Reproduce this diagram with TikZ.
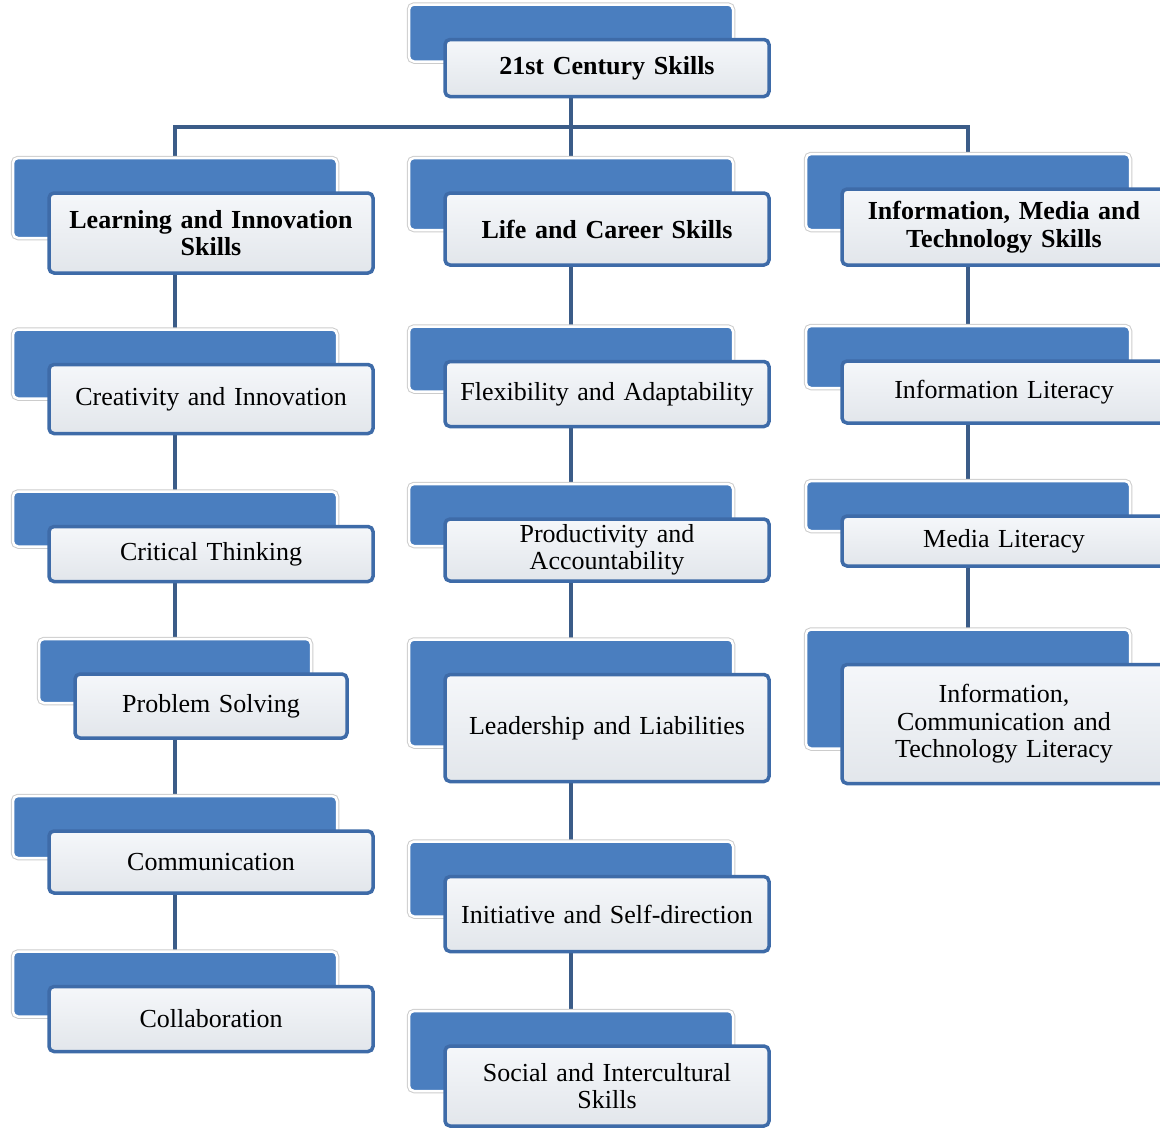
\documentclass[tikz,border=0pt]{standalone}
\usepackage{fontspec}
\setmainfont{Liberation Serif}
\usetikzlibrary{positioning,backgrounds}
\definecolor{skillblue}{HTML}{4A7EBF}
\definecolor{skilledge}{HTML}{3E6BA8}
\definecolor{skillline}{HTML}{3B5C88}
\definecolor{paletop}{HTML}{F5F7FA}
\definecolor{palebot}{HTML}{E2E6EB}
\tikzset{
	back/.style={
		rectangle,
		rounded corners=5pt,
		fill=skillblue,
		draw=white,
		line width=2.5pt,
		preaction={draw=black!20,line width=4.5pt},
		minimum width=324pt,
	},
	front/.style={
		rectangle,
		rounded corners=5pt,
		top color=paletop,
		bottom color=palebot,
		draw=skilledge,
		line width=3.5pt,
		minimum width=324pt,
		text width=310pt,
		align=center,
		inner sep=0pt,
		font=\fontsize{26}{27.5}\selectfont,
	},
	head/.style={
		front,
		font=\fontsize{26}{27.5}\selectfont\bfseries,
	},
	link/.style={
		draw=skillline,
		line width=4pt
	}
}

\begin{document}
\begin{tikzpicture}[x=1pt,y=-1pt]
		\useasboundingbox (0,0) rectangle (1160,1130);
		\clip (0,0) rectangle (1160,1130);
		% top
		\node [back,minimum height=57pt] (b-root) at (571,33) {};
		\node [head,minimum height=57pt] (root) at ([shift={(36,35)}]b-root.center) {21st Century Skills};
		% left column
		\node [back,minimum height=80pt] (b-learn) at (175,198) {};
		\node [head,minimum height=80pt] (learn) at ([shift={(36,35)}]b-learn.center) {Learning and Innovation\\Skills};
		\node [back,minimum height=69pt] (b-creat) at (175,364) {};
		\node [front,minimum height=69pt] (creat) at ([shift={(36,35)}]b-creat.center) {Creativity and Innovation};
		\node [back,minimum height=55pt] (b-crit) at (175,519) {};
		\node [front,minimum height=55pt] (crit) at ([shift={(36,35)}]b-crit.center) {Critical Thinking};
		\node [back,minimum height=64pt,minimum width=272pt] (b-prob) at (175,671) {};
		\node [front,minimum height=64pt,minimum width=272pt,text width=260pt] (prob) at ([shift={(36,35)}]b-prob.center) {Problem Solving};
		\node [back,minimum height=62pt] (b-comm) at (175,827) {};
		\node [front,minimum height=62pt] (comm) at ([shift={(36,35)}]b-comm.center) {Communication};
		\node [back,minimum height=65pt] (b-collab) at (175,984) {};
		\node [front,minimum height=65pt] (collab) at ([shift={(36,35)}]b-collab.center) {Collaboration};
		% middle column
		\node [back,minimum height=72pt] (b-life) at (571,194) {};
		\node [head,minimum height=72pt] (life) at ([shift={(36,35)}]b-life.center) {Life and Career Skills};
		\node [back,minimum height=65pt] (b-flex) at (571,359) {};
		\node [front,minimum height=65pt] (flex) at ([shift={(36,35)}]b-flex.center) {Flexibility and Adaptability};
		\node [back,minimum height=62pt] (b-prod) at (571,515) {};
		\node [front,minimum height=62pt] (prod) at ([shift={(36,35)}]b-prod.center) {Productivity and\\Accountability};
		\node [back,minimum height=107pt] (b-lead) at (571,693) {};
		\node [front,minimum height=107pt] (lead) at ([shift={(36,35)}]b-lead.center) {Leadership and Liabilities};
		\node [back,minimum height=75pt] (b-init) at (571,879) {};
		\node [front,minimum height=75pt] (init) at ([shift={(36,35)}]b-init.center) {Initiative and Self-direction};
		\node [back,minimum height=80pt] (b-social) at (571,1051) {};
		\node [front,minimum height=80pt] (social) at ([shift={(36,35)}]b-social.center) {Social and Intercultural\\Skills};
		% right column
		\node [back,minimum height=76pt] (b-info) at (968,192) {};
		\node [head,minimum height=76pt] (info) at ([shift={(36,35)}]b-info.center) {Information, Media and\\Technology Skills};
		\node [back,minimum height=62pt] (b-infolit) at (968,357) {};
		\node [front,minimum height=62pt] (infolit) at ([shift={(36,35)}]b-infolit.center) {Information Literacy};
		\node [back,minimum height=50pt] (b-media) at (968,506) {};
		\node [front,minimum height=50pt] (media) at ([shift={(36,35)}]b-media.center) {Media Literacy};
		\node [back,minimum height=119pt] (b-ict) at (968,689) {};
		\node [front,minimum height=119pt] (ict) at ([shift={(36,35)}]b-ict.center) {Information,\\Communication and\\Technology Literacy};
		\coordinate (bus) at (571,127);
		\begin{scope}[on background layer]
		\draw [link] (b-root) -- (b-life);
		\draw [link] (b-learn) |- (bus) -| (b-info);
		\draw [link] (b-learn) -- (b-creat) -- (b-crit) -- (b-prob) -- (b-comm) -- (b-collab);
		\draw [link] (b-life) -- (b-flex) -- (b-prod) -- (b-lead) -- (b-init) -- (b-social);
		\draw [link] (b-info) -- (b-infolit) -- (b-media) -- (b-ict);
		\end{scope}
\end{tikzpicture}
\end{document}
